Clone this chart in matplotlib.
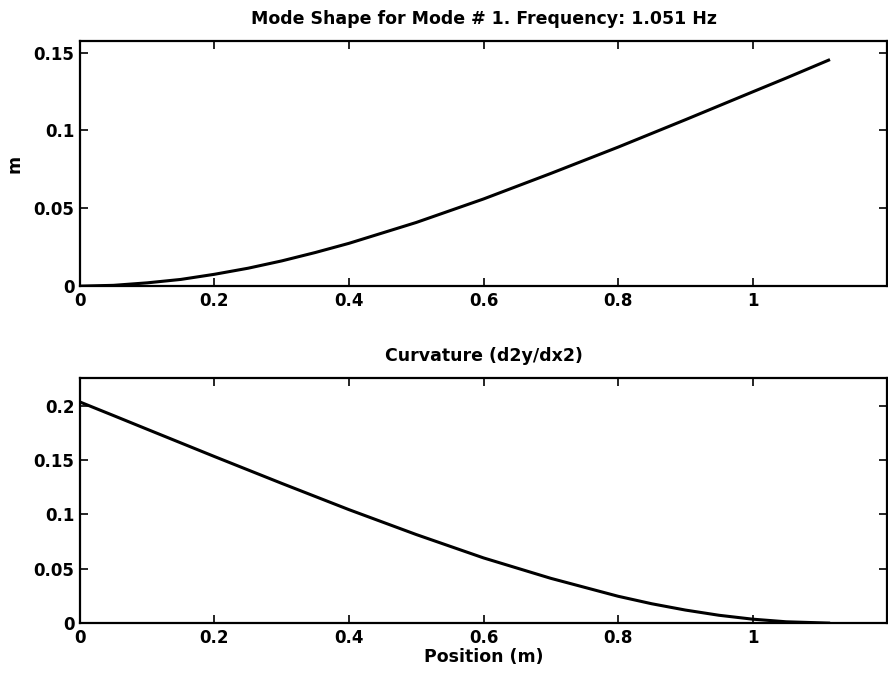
import matplotlib.pyplot as plt

# positions along the beam (m)
x_top = [0, 0.05, 0.1, 0.15, 0.2, 0.25, 0.3, 0.35, 0.4, 0.5, 0.6, 0.7, 0.8,
         0.9, 1.0, 1.05, 1.113]
# mode shape displacement (m)
mode_shape = [0, 0.0005, 0.0021, 0.0043, 0.0076, 0.0115, 0.0162, 0.0216,
              0.0275, 0.0409, 0.0560, 0.0724, 0.0893, 0.1069, 0.1248, 0.1337,
              0.1452]

x_bot = [0, 0.05, 0.1, 0.2, 0.3, 0.4, 0.5, 0.6, 0.7, 0.8, 0.85, 0.9, 0.95,
         1.0, 1.05, 1.113]
# curvature d2y/dx2
curvature = [0.2035, 0.1910, 0.1784, 0.1533, 0.1286, 0.1044, 0.0815, 0.0600,
             0.0412, 0.0247, 0.0178, 0.0120, 0.0072, 0.0036, 0.0012, 0.0]

x_ticks = [0, 0.2, 0.4, 0.6, 0.8, 1.0]
x_tick_labels = ['0', '0.2', '0.4', '0.6', '0.8', '1']
top_yticks = [0, 0.05, 0.1, 0.15]
top_ylabels = ['0', '0.05', '0.1', '0.15']
bot_yticks = [0, 0.05, 0.1, 0.15, 0.2]
bot_ylabels = ['0', '0.05', '0.1', '0.15', '0.2']

plt.rcParams['font.family'] = ['DejaVu Sans']
plt.rcParams['font.weight'] = 'bold'
plt.rcParams['axes.labelweight'] = 'bold'

fig = plt.figure(figsize=(8.88, 6.78), dpi=100)
ax1 = fig.add_axes([0.090, 0.578, 0.909, 0.3615])
ax2 = fig.add_axes([0.090, 0.081, 0.909, 0.3615])


def style(ax, yticks, ylabels, ylim):
    ax.set_xlim(0, 1.2)
    ax.set_ylim(*ylim)
    ax.set_xticks(x_ticks)
    ax.set_xticklabels(x_tick_labels)
    ax.set_yticks(yticks)
    ax.set_yticklabels(ylabels)
    ax.tick_params(direction='in', length=6, width=1.2, top=True, right=True,
                   pad=4, labelsize=12)
    for s in ax.spines.values():
        s.set_linewidth(1.6)


ax1.plot(x_top, mode_shape, color='black', lw=2.2)
style(ax1, top_yticks, top_ylabels, (0, 0.1575))
ax1.set_title('Mode Shape for Mode # 1. Frequency: 1.051 Hz', fontsize=12.5,
              fontweight='bold', pad=12)
ax1.set_ylabel('m', fontsize=12.5, fontweight='bold', labelpad=7)

ax2.plot(x_bot, curvature, color='black', lw=2.2)
style(ax2, bot_yticks, bot_ylabels, (0, 0.2256))
ax2.set_title('Curvature (d2y/dx2)', fontsize=12.5, fontweight='bold', pad=12)
ax2.set_xlabel('Position (m)', fontsize=12.5, fontweight='bold', labelpad=1)

fig.savefig('out.png', dpi=100)
